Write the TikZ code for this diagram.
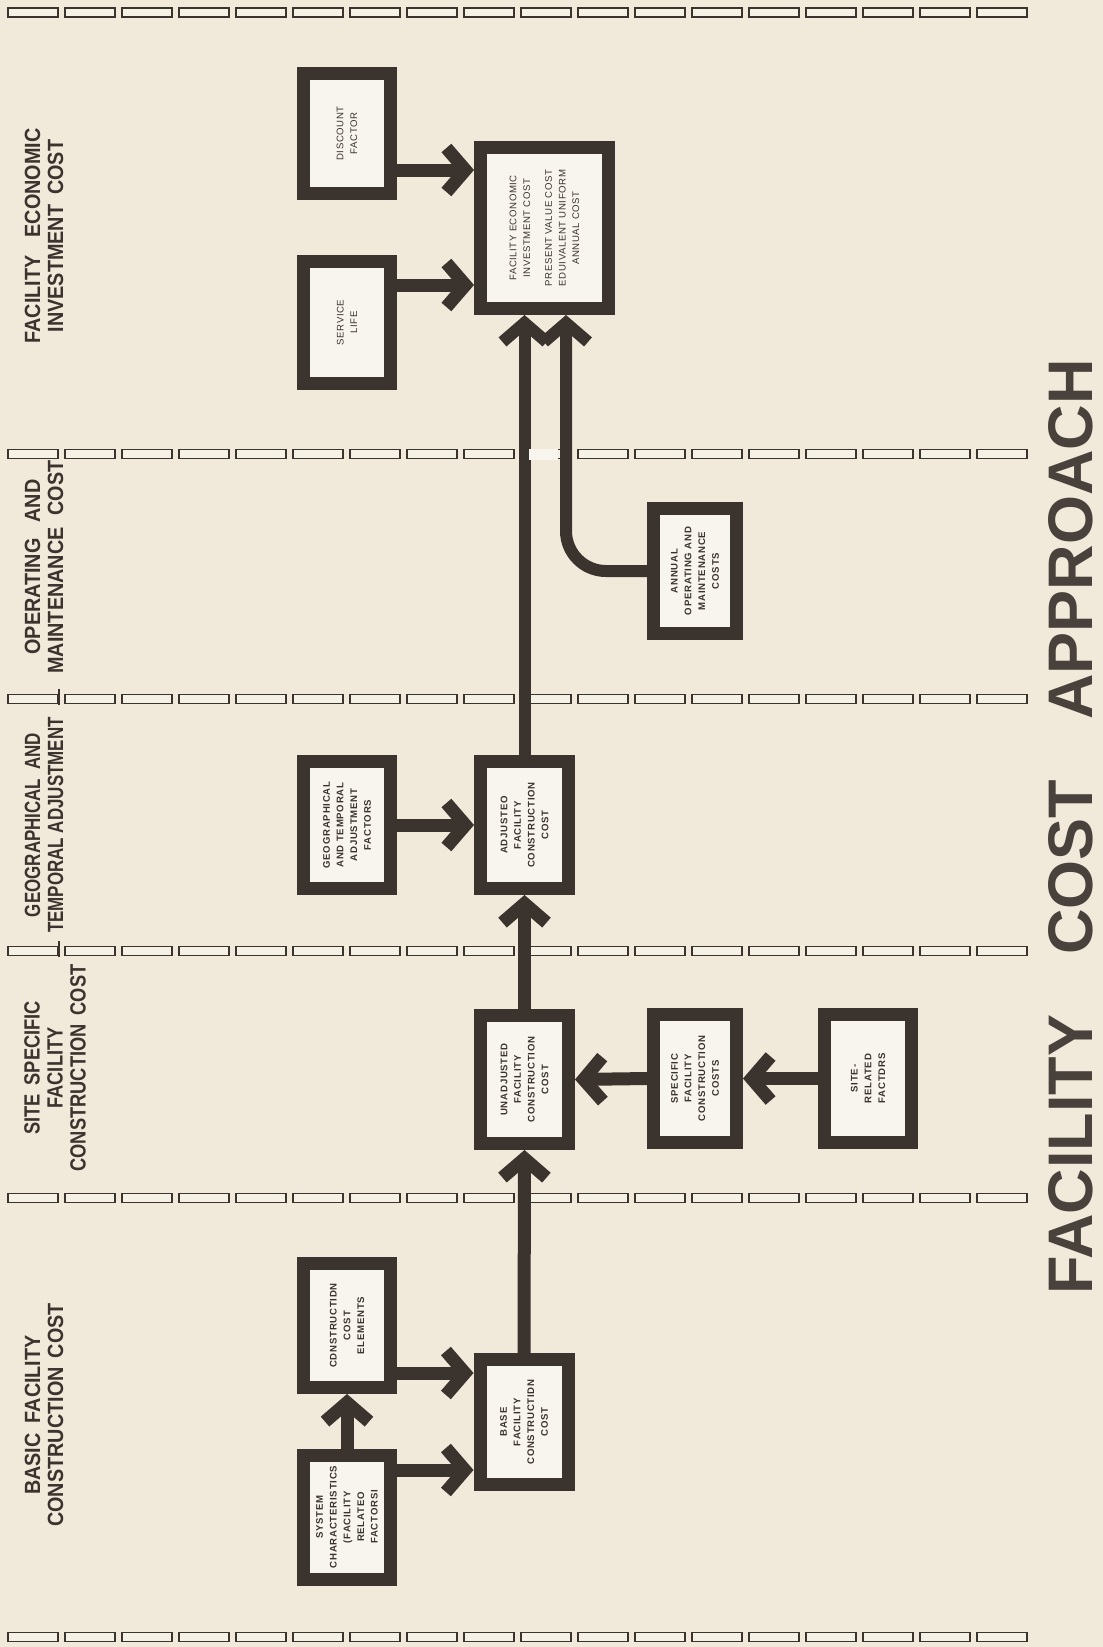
\documentclass[tikz,border=0pt]{standalone}
\usepackage{fontspec}
\setmainfont{Liberation Sans}
\newfontfamily\labfont[FakeStretch=0.9]{Liberation Sans}
\newfontfamily\labnarrow[FakeStretch=0.77]{Liberation Sans}
\newfontfamily\labmid[FakeStretch=0.83]{Liberation Sans}
\newfontfamily\boxfont[LetterSpace=8]{Liberation Sans}
\newfontfamily\boxlight[LetterSpace=6]{Liberation Sans}
\usetikzlibrary{arrows.meta}
\definecolor{paper}{HTML}{F1EADA}
\definecolor{ink}{HTML}{3B332E}
\definecolor{innerfill}{HTML}{F8F5EE}
\definecolor{dashfill}{HTML}{F6F1E5}
\tikzset{
  dashbox/.style={draw=ink, line width=1.5pt, fill=dashfill},
  box/.style={draw=ink, line width=13pt, fill=innerfill, rotate=90, align=center,
    inner sep=0pt, outer sep=6.5pt, text=ink,
    font=\boxfont\bfseries\fontsize{9.6}{13.7}\selectfont},
  lightbox/.style={box, font=\boxlight\fontsize{9.6}{13.7}\selectfont},
  lab/.style={rotate=90, align=center, text=ink, inner sep=0pt,
    font=\labfont\bfseries\fontsize{22}{23}\selectfont},
  titlestyle/.style={rotate=90, text=ink!92!paper, inner sep=0pt,
    font=\bfseries\fontsize{63}{70}\selectfont},
  arr/.style={draw=ink, line width=13pt, -{Straight Barb[length=19pt, width=44pt]}},
  tick/.style={draw=ink, line width=1.5pt}
}
\begin{document}
\begin{tikzpicture}[x=1pt,y=-1pt]
\useasboundingbox (0,0) rectangle (1103,1647);
\fill[paper] (0,0) rectangle (1103,1647);

% dashed separators
\foreach \yy in {12.6,454,699,951,1198,1637}{
  \foreach \i in {0,...,17}{
    \draw[dashbox] ({8+57*\i},{\yy-4.5}) rectangle ++(50,9);
  }
}
\draw[tick] (59,689) -- (59,705);
\draw[tick] (59,941) -- (59,957);

% column labels
\node[lab] (l1) at (44,236) {FACILITY\hspace{18pt}ECONOMIC\\INVESTMENT\hspace{10pt}COST};
\node[lab] (l2) at (44,567) {OPERATING\hspace{16pt}AND\\MAINTENANCE\hspace{12pt}COST};
\node[lab, font=\labnarrow\bfseries\fontsize{22}{23}\selectfont] (l3) at (44,825) {GEOGRAPHICAL\hspace{9pt}AND\\TEMPORAL ADJUSTMENT};
\node[lab, font=\labmid\bfseries\fontsize{22}{23}\selectfont] (l4) at (55,1068) {SITE\hspace{9pt}SPECIFIC\\FACILITY\\CONSTRUCTION\hspace{9pt}COST};
\node[lab] (l5) at (44,1415) {BASIC\hspace{10pt}FACILITY\\CONSTRUCTION\hspace{9pt}COST};

% title
\node[titlestyle] (title) at (1071,827) {FACILITY\hspace{60pt}COST\hspace{60pt}APPROACH};

% boxes
\node[lightbox, minimum width=120pt, minimum height=87pt] (disc) at (347,133.5) {DISCOUNT\\FACTOR};
\node[lightbox, minimum width=122pt, minimum height=87pt] (svc) at (347,322.5) {SERVICE\\LIFE};
\node[lightbox, minimum width=161pt, minimum height=128pt] (feic) at (544.5,228)
  {FACILITY ECONOMIC\\INVESTMENT COST\\[8pt]PRESENT VALUE COST\\EDUIVALENT UNIFORM\\ANNUAL COST};
\node[box, minimum width=125pt, minimum height=83pt] (aom) at (695,571) {ANNUAL\\OPERATING AND\\MAINTENANCE\\COSTS};
\node[box, minimum width=127pt, minimum height=87pt] (geo) at (347,825) {GEOGRAPHICAL\\AND TEMPORAL\\ADJUSTMENT\\FACTORS};
\node[box, minimum width=127pt, minimum height=88pt] (adj) at (524.5,825) {ADJUSTEO\\FACILITY\\CONSTRUCTION\\COST};
\node[box, minimum width=128pt, minimum height=88pt] (unadj) at (524.5,1079.5) {UNADJUSTED\\FACILITY\\CONSTRUCTION\\COST};
\node[box, minimum width=128pt, minimum height=83pt] (spec) at (695,1078.5) {SPECIFIC\\FACILITY\\CONSTRUCTION\\COSTS};
\node[box, minimum width=128pt, minimum height=87pt] (site) at (868,1078.5) {SITE-\\RELATED\\FACTDRS};
\node[box, minimum width=124pt, minimum height=87pt] (cce) at (347,1325.5) {CDNSTRUCTIDN\\COST\\ELEMENTS};
\node[box, minimum width=124pt, minimum height=87pt] (sys) at (347,1517) {SYSTEM\\CHARACTERISTICS\\(FACILITY\\RELATEO\\FACTORSI};
\node[box, minimum width=125pt, minimum height=88pt] (base) at (524,1422) {BASE\\FACILITY\\CONSTRUCTIDN\\COST};

% connectors
\draw[arr] (sys.east) -- (cce.west);
\draw[arr] (sys.south |- 0,1470) -- (base.north |- 0,1470);
\draw[arr] (cce.south |- 0,1373) -- (base.north |- 0,1373);
\draw[arr] (base.east) -- (unadj.west);
\draw[arr] (spec.north) -- (unadj.south);
\draw[arr] (site.north) -- (spec.south);
\draw[arr] (unadj.east) -- (adj.west);
\draw[arr] (geo.south) -- (adj.north);
\draw[arr, line width=12pt] (adj.east) -- (adj.east |- feic.west);
\draw[arr, line width=12pt, rounded corners=40pt] (aom.north) -| ([xshift=21.5pt]feic.west);
\draw[arr] (svc.south |- 0,285) -- (feic.north |- 0,285);
\draw[arr] (disc.south |- 0,170) -- (feic.north |- 0,170);

% faded dash between the two spines
\fill[innerfill] (529,448.5) rectangle (558,459.5);
\end{tikzpicture}
\end{document}
